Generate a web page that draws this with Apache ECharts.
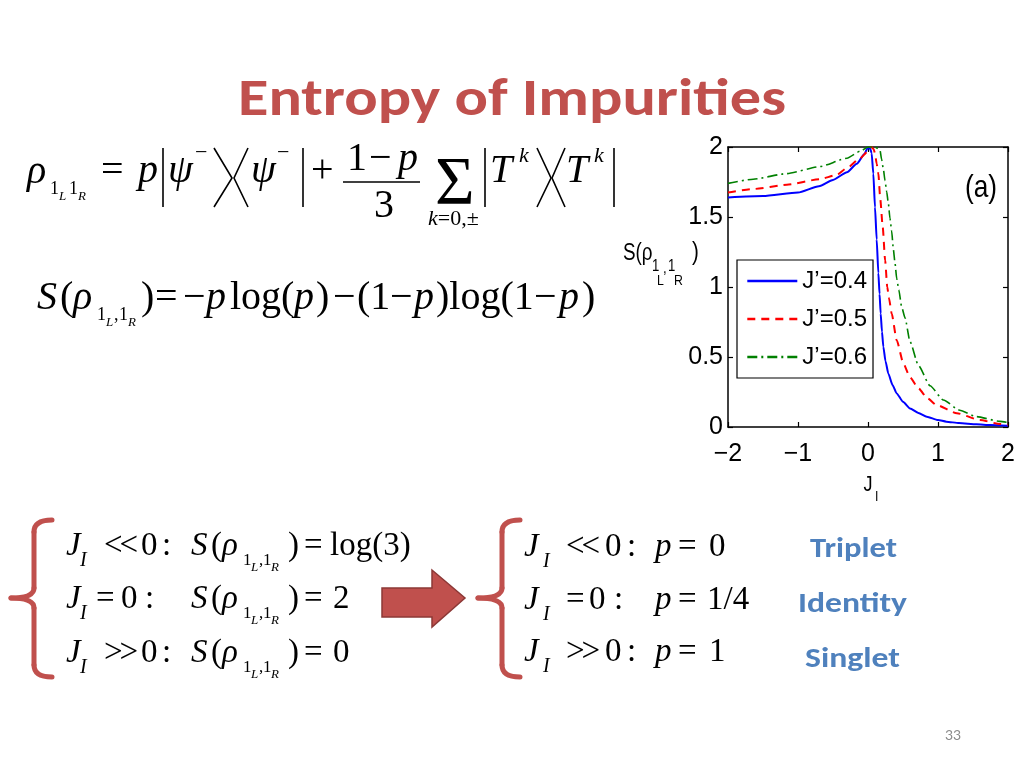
<!DOCTYPE html>
<html>
<head>
<meta charset="utf-8">
<script src="https://cdn.jsdelivr.net/npm/echarts@6/dist/echarts.min.js"></script>
<style>
    html, body { margin: 0; padding: 0; background: #fff; }
    #slide { position: relative; width: 1024px; height: 768px; overflow: hidden; }
    #chart { position: absolute; left: 0; top: 0; width: 1024px; height: 768px; }
    #txt { position: absolute; left: 0; top: 0; pointer-events: none; }
    .m text { font-family: "Liberation Serif", "Times New Roman", serif; fill: #000; }
    .m .i { font-style: italic; }
    .d { stroke: #000; stroke-width: 1.6; fill: none; }
    .sans { font-family: Carlito, Lato, "Open Sans", sans-serif; font-weight: bold; }
</style>
</head>
<body>
<div id="slide">
<div id="chart"></div>
<svg id="txt" width="1024" height="768">
    <!-- title -->
    <text class="sans" x="238" y="115" font-size="52" fill="#C0504D" textLength="548" lengthAdjust="spacingAndGlyphs">Entropy of Impurities</text>

    <!-- rho = p|psi-><psi-| + (1-p)/3 sum |T^k><T^k| -->
    <g class="m" font-size="40">
        <text class="i" x="27" y="183">ρ</text>
        <text x="50" y="194" font-size="18">1</text>
        <text class="i" x="59" y="200" font-size="13">L</text>
        <text x="69" y="194" font-size="18">1</text>
        <text class="i" x="78" y="200" font-size="13">R</text>
        <text x="101" y="182">=</text>
        <text class="i" x="138" y="182">p</text>
        <line class="d" x1="163" y1="148" x2="163" y2="207"/>
        <text class="i" x="168" y="182">ψ</text>
        <text x="195" y="159" font-size="22">−</text>
        <polyline class="d" points="214,148 232,178 214,207"/>
        <polyline class="d" points="248,148 234,178 248,207"/>
        <text class="i" x="251" y="182">ψ</text>
        <text x="277" y="159" font-size="22">−</text>
        <line class="d" x1="303" y1="148" x2="303" y2="207"/>
        <text x="311" y="182">+</text>
        <text x="347" y="170">1</text>
        <text x="369" y="170">−</text>
        <text class="i" x="398" y="170">p</text>
        <line class="d" x1="343" y1="182" x2="420" y2="182"/>
        <text x="374" y="217">3</text>
        <text x="435" y="203" font-size="68">Σ</text>
        <text x="428" y="225" font-size="22"><tspan font-style="italic">k</tspan>=0,±</text>
        <line class="d" x1="485" y1="148" x2="485" y2="207"/>
        <text class="i" x="490" y="182">T</text>
        <text class="i" x="519" y="162" font-size="22">k</text>
        <polyline class="d" points="537,148 551,178 537,207"/>
        <polyline class="d" points="565,148 552,178 565,207"/>
        <text class="i" x="566" y="182">T</text>
        <text class="i" x="594" y="162" font-size="22">k</text>
        <line class="d" x1="614" y1="148" x2="614" y2="207"/>
    </g>

    <!-- S(rho) = -p log(p) - (1-p) log(1-p) -->
    <g class="m" font-size="40">
        <text class="i" x="37" y="309">S</text>
        <text x="60" y="309">(</text>
        <text class="i" x="73" y="309">ρ</text>
        <text x="97" y="320" font-size="18">1</text>
        <text class="i" x="106" y="326" font-size="13">L</text>
        <text x="114" y="320" font-size="18">,</text>
        <text x="119" y="320" font-size="18">1</text>
        <text class="i" x="128" y="326" font-size="13">R</text>
        <text x="141" y="309">)</text>
        <text x="155" y="309">=</text>
        <text x="183" y="309">−</text>
        <text class="i" x="206" y="309">p</text>
        <text x="230" y="309">log(</text>
        <text class="i" x="294" y="309">p</text>
        <text x="316" y="309">)</text>
        <text x="333" y="309">−</text>
        <text x="357" y="309">(1</text>
        <text x="390" y="309">−</text>
        <text class="i" x="414" y="309">p</text>
        <text x="436" y="309">)log(1</text>
        <text x="534" y="309">−</text>
        <text class="i" x="559" y="309">p</text>
        <text x="582" y="309">)</text>
    </g>

    <!-- limits of S -->
    <g class="m" font-size="33">
        <text class="i" x="66" y="555">J</text><text class="i" x="80" y="566" font-size="20">I</text>
        <text x="104" y="555" letter-spacing="-3">&lt;&lt;</text><text x="141" y="555">0</text><text x="162" y="555">:</text>
        <text class="i" x="191" y="555">S</text><text x="211" y="555">(</text><text class="i" x="222" y="555">ρ</text>
        <text x="243" y="565" font-size="17">1</text><text class="i" x="251" y="571" font-size="13">L</text>
        <text x="259" y="565" font-size="17">,</text><text x="263" y="565" font-size="17">1</text>
        <text class="i" x="271" y="571" font-size="13">R</text>
        <text x="288" y="555">)</text><text x="304" y="555">=</text><text x="330" y="555">log(3)</text>

        <text class="i" x="66" y="608">J</text><text class="i" x="80" y="619" font-size="20">I</text>
        <text x="96" y="608">=</text><text x="121" y="608">0</text><text x="145" y="608">:</text>
        <text class="i" x="191" y="608">S</text><text x="211" y="608">(</text><text class="i" x="222" y="608">ρ</text>
        <text x="243" y="618" font-size="17">1</text><text class="i" x="251" y="624" font-size="13">L</text>
        <text x="259" y="618" font-size="17">,</text><text x="263" y="618" font-size="17">1</text>
        <text class="i" x="271" y="624" font-size="13">R</text>
        <text x="288" y="608">)</text><text x="304" y="608">=</text><text x="333" y="608">2</text>

        <text class="i" x="66" y="662">J</text><text class="i" x="80" y="673" font-size="20">I</text>
        <text x="104" y="662" letter-spacing="-3">&gt;&gt;</text><text x="141" y="662">0</text><text x="162" y="662">:</text>
        <text class="i" x="191" y="662">S</text><text x="211" y="662">(</text><text class="i" x="222" y="662">ρ</text>
        <text x="243" y="672" font-size="17">1</text><text class="i" x="251" y="678" font-size="13">L</text>
        <text x="259" y="672" font-size="17">,</text><text x="263" y="672" font-size="17">1</text>
        <text class="i" x="271" y="678" font-size="13">R</text>
        <text x="288" y="662">)</text><text x="304" y="662">=</text><text x="333" y="662">0</text>
    </g>

    <!-- limits of p -->
    <g class="m" font-size="33">
        <text class="i" x="524" y="556">J</text><text class="i" x="543" y="567" font-size="20">I</text>
        <text x="566" y="556" letter-spacing="-3">&lt;&lt;</text><text x="605" y="556">0</text><text x="627" y="556">:</text>
        <text class="i" x="655" y="556">p</text><text x="678" y="556">=</text><text x="709" y="556">0</text>

        <text class="i" x="524" y="609">J</text><text class="i" x="543" y="620" font-size="20">I</text>
        <text x="566" y="609">=</text><text x="589" y="609">0</text><text x="614" y="609">:</text>
        <text class="i" x="655" y="609">p</text><text x="678" y="609">=</text><text x="707" y="609">1/4</text>

        <text class="i" x="524" y="661">J</text><text class="i" x="543" y="672" font-size="20">I</text>
        <text x="566" y="661" letter-spacing="-3">&gt;&gt;</text><text x="605" y="661">0</text><text x="627" y="661">:</text>
        <text class="i" x="655" y="661">p</text><text x="678" y="661">=</text><text x="709" y="661">1</text>
    </g>

    <text class="sans" x="810" y="557" font-size="29" fill="#4F81BD" textLength="87" lengthAdjust="spacingAndGlyphs">Triplet</text>
    <text class="sans" x="798" y="612" font-size="29" fill="#4F81BD" textLength="109" lengthAdjust="spacingAndGlyphs">Identity</text>
    <text class="sans" x="805" y="667" font-size="29" fill="#4F81BD" textLength="95" lengthAdjust="spacingAndGlyphs">Singlet</text>
    <text x="945" y="740" font-size="14" fill="#8c8c8c" font-family="Lato, 'Open Sans', sans-serif">33</text>
</svg>
</div>
<script>
// tick labels
var xTickValues = [-2, -1, 0, 1, 2];
var xTickLabels = ['−2', '−1', '0', '1', '2'];
var yTickValues = [0, 0.5, 1, 1.5, 2];
var yTickLabels = ['0', '0.5', '1', '1.5', '2'];

var seriesNames = ['J’=0.4', 'J’=0.5', 'J’=0.6'];

// J'=0.4 (solid blue)
var jI04 = [-2, -1.5, -1, -0.7, -0.5, -0.3, -0.16, -0.05, -0.01, 0.03, 0.052, 0.076, 0.1, 0.124, 0.148, 0.165,
    0.181, 0.2, 0.219, 0.25, 0.29, 0.35, 0.41, 0.5, 0.6, 0.72, 0.84, 1.0, 1.12, 1.3, 1.55, 1.75, 2];
var s04 = [1.64, 1.65, 1.675, 1.72, 1.765, 1.82, 1.88, 1.95, 1.99, 1.99, 1.955, 1.81, 1.57, 1.34, 1.10, 0.95,
    0.81, 0.68, 0.574, 0.47, 0.383, 0.3, 0.24, 0.18, 0.133, 0.1, 0.074, 0.05, 0.038, 0.028, 0.019, 0.014, 0.009];

// J'=0.5 (dashed red)
var jI05 = [-2, -1.64, -1.16, -0.69, -0.45, -0.3, -0.11, 0, 0.05, 0.08, 0.1, 0.124, 0.148, 0.175, 0.21,
    0.245, 0.275, 0.3, 0.338, 0.41, 0.505, 0.6, 0.72, 0.85, 0.98, 1.27, 1.6, 1.886, 2];
var s05 = [1.675, 1.70, 1.73, 1.77, 1.80, 1.85, 1.92, 1.97, 2.0, 1.985, 1.955, 1.88, 1.81, 1.63, 1.43,
    1.19, 1.0, 0.92, 0.81, 0.62, 0.455, 0.355, 0.276, 0.205, 0.157, 0.098, 0.05, 0.021, 0.015];

// J'=0.6 (dash-dot green)
var jI06 = [-2, -1.64, -1.16, -0.69, -0.3, -0.11, 0, 0.1, 0.17, 0.195, 0.22, 0.243, 0.267, 0.29, 0.314,
    0.338, 0.362, 0.386, 0.41, 0.44, 0.48, 0.529, 0.6, 0.72, 0.886, 1.076, 1.31, 1.55, 1.886, 2];
var s06 = [1.74, 1.77, 1.81, 1.86, 1.92, 1.97, 2.0, 2.0, 1.98, 1.91, 1.84, 1.76, 1.68, 1.60, 1.49,
    1.40, 1.27, 1.17, 1.06, 0.98, 0.86, 0.78, 0.61, 0.44, 0.295, 0.193, 0.12, 0.074, 0.04, 0.032];

function pairs(xs, ys) {
    return xs.map(function (x, i) { return [x, ys[i]]; });
}

var sansFont = '"Liberation Sans", Arial, sans-serif';
var red = '#C0504D';

var frameLine = { show: true, onZero: false, lineStyle: { color: '#000', width: 1.5 } };
var frameTick = { show: true, inside: true, length: 5, lineStyle: { color: '#000', width: 1.2 } };

function makeLine(name, data, color, width, type) {
    return {
        name: name,
        type: 'line',
        data: data,
        symbol: 'none',
        showSymbol: false,
        smooth: 0.2,
        smoothMonotone: 'x',
        itemStyle: { color: color },
        lineStyle: { color: color, width: width, type: type },
        emphasis: { disabled: true }
    };
}

// narrow-looking text for the figure annotations
function label(x, y, text, size, align) {
    return {
        type: 'text', x: x, y: y, scaleX: 0.82,
        style: { text: text, fontFamily: sansFont, fontSize: size, fill: '#000',
                 textAlign: align || 'left', textVerticalAlign: 'middle' }
    };
}

// curly brace: bar at xb, ends reach xe, nib reaches xn, middle at ym
function brace(xb, xe, xn, y0, ym, y1) {
    var st = { stroke: red, lineWidth: 5, fill: null, lineCap: 'round' };
    return [
        { type: 'bezierCurve', shape: { x1: xe, y1: y0, cpx1: xb, cpy1: y0, x2: xb, y2: y0 + 12 }, style: st },
        { type: 'line', shape: { x1: xb, y1: y0 + 12, x2: xb, y2: ym - 10 }, style: st },
        { type: 'bezierCurve', shape: { x1: xb, y1: ym - 10, cpx1: xb, cpy1: ym, x2: xn, y2: ym }, style: st },
        { type: 'bezierCurve', shape: { x1: xn, y1: ym, cpx1: xb, cpy1: ym, x2: xb, y2: ym + 10 }, style: st },
        { type: 'line', shape: { x1: xb, y1: ym + 10, x2: xb, y2: y1 - 12 }, style: st },
        { type: 'bezierCurve', shape: { x1: xb, y1: y1 - 12, cpx1: xb, cpy1: y1, x2: xe, y2: y1 }, style: st }
    ];
}

var chart = echarts.init(document.getElementById('chart'));
var option = {
    backgroundColor: 'transparent',
    animation: false,
    grid: { left: 728, top: 147, width: 280, height: 280 },
    legend: {
        orient: 'vertical',
        left: 737,
        top: 260,
        data: seriesNames,
        backgroundColor: '#fff',
        borderColor: '#000',
        borderWidth: 1.2,
        padding: [9, 6, 9, 9],
        itemWidth: 50,
        itemHeight: 22,
        itemGap: 14,
        itemStyle: { opacity: 0 },
        lineStyle: { width: 2.6 },
        textStyle: { fontFamily: sansFont, fontSize: 24, color: '#000' }
    },
    xAxis: [{
        type: 'value', min: -2, max: 2, interval: 1,
        axisLine: frameLine, axisTick: frameTick, splitLine: { show: false },
        axisLabel: {
            color: '#000', fontFamily: sansFont, fontSize: 25, margin: 15,
            formatter: function (v) { return xTickLabels[xTickValues.indexOf(v)]; }
        }
    }, {
        type: 'value', position: 'top', min: -2, max: 2, interval: 1,
        axisLine: frameLine, axisTick: frameTick, splitLine: { show: false },
        axisLabel: { show: false }
    }],
    yAxis: [{
        type: 'value', min: 0, max: 2, interval: 0.5,
        axisLine: frameLine, axisTick: frameTick, splitLine: { show: false },
        axisLabel: {
            color: '#000', fontFamily: sansFont, fontSize: 25, margin: 5,
            formatter: function (v) { return yTickLabels[yTickValues.indexOf(v)]; }
        }
    }, {
        type: 'value', position: 'right', min: 0, max: 2, interval: 0.5,
        axisLine: frameLine, axisTick: frameTick, splitLine: { show: false },
        axisLabel: { show: false }
    }],
    series: [
        makeLine(seriesNames[0], pairs(jI04, s04), '#0000FF', 2, 'solid'),
        makeLine(seriesNames[1], pairs(jI05, s05), '#FF0000', 2, [8, 6]),
        makeLine(seriesNames[2], pairs(jI06, s06), '#008000', 1.6, [10, 4, 2, 4])
    ],
    graphic: [
        // panel tag and axis names
        label(981, 188, '(a)', 32, 'center'),
        label(868, 485, 'J', 22, 'center'),
        label(875, 497, 'I', 15),
        label(623, 254, 'S(ρ', 23),
        label(652, 267, '1', 16),
        label(657, 281, 'L', 15),
        label(663, 269, ',', 16),
        label(668, 267, '1', 16),
        label(674, 281, 'R', 15),
        label(692, 253, ')', 25),
        // arrow
        { type: 'polygon', shape: { points: [[382, 588], [432, 588], [432, 570], [465, 598], [432, 627], [432, 617], [382, 617]] },
          style: { fill: red, stroke: '#8C3836', lineWidth: 1.5 } }
    ].concat(brace(34, 52, 11, 520, 598, 677), brace(502, 520, 478, 520, 598, 677))
};
chart.setOption(option);
</script>
</body>
</html>
